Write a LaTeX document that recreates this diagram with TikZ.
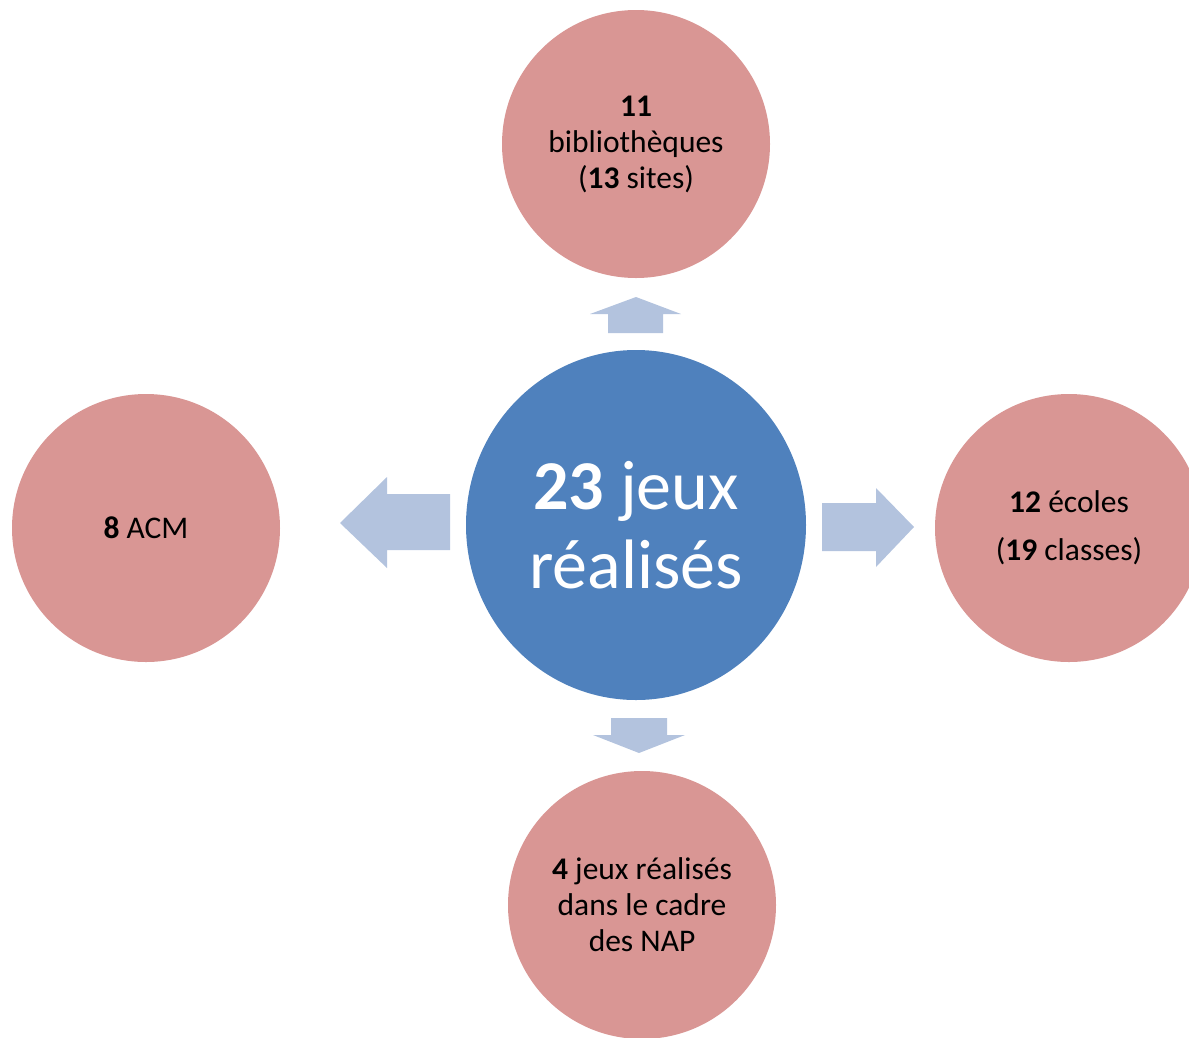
\documentclass[tikz,border=0pt]{standalone}
\usepackage{fontspec}
\setmainfont{Carlito}
\usetikzlibrary{shapes.geometric}
\definecolor{pinkc}{HTML}{D99694}
\definecolor{bluec}{HTML}{4F81BD}
\definecolor{arrowc}{HTML}{B3C3DE}
\tikzset{
  satellite/.style={circle, fill=pinkc, draw=none, minimum size=268pt, inner sep=0pt, align=center, text=black, font=\fontsize{31.5}{36}\selectfont},
  hub/.style={ellipse, fill=bluec, draw=none, minimum width=340pt, minimum height=350pt, inner sep=0pt, align=center, text=white, font=\fontsize{70}{79}\selectfont},
  blockarrow/.style={fill=arrowc, draw=none}
}
\begin{document}
\begin{tikzpicture}[x=1pt,y=-1pt]
\useasboundingbox (0,0) rectangle (1189,1037);
\clip (0,0) rectangle (1189,1037);
\node[hub] (hub) at (636,525) {\textbf{23} jeux\\réalisés};
\node[satellite] (top) at (636,144) {\textbf{11}\\bibliothèques\\(\textbf{13} sites)};
\node[satellite] (left) at (146,528) {\textbf{8} ACM};
\node[satellite] (right) at (1069,528) {\textbf{12} écoles\\[12pt](\textbf{19} classes)};
\node[satellite] (bottom) at (642,905) {\textbf{4} jeux réalisés\\dans le cadre\\des NAP};
% block arrows
\fill[blockarrow] (608,333) -- (608,314) -- (590,314) -- (636,297) -- (681,314) -- (663,314) -- (663,333) -- cycle;
\fill[blockarrow] (450,494) -- (387,494) -- (387,477) -- (340,523) -- (387,568) -- (387,550) -- (450,550) -- cycle;
\fill[blockarrow] (822,503) -- (876,503) -- (876,488) -- (914,527) -- (876,567) -- (876,551) -- (822,551) -- cycle;
\fill[blockarrow] (611,718) -- (667,718) -- (667,735) -- (685,735) -- (639,753) -- (593,735) -- (611,735) -- cycle;
\end{tikzpicture}
\end{document}
